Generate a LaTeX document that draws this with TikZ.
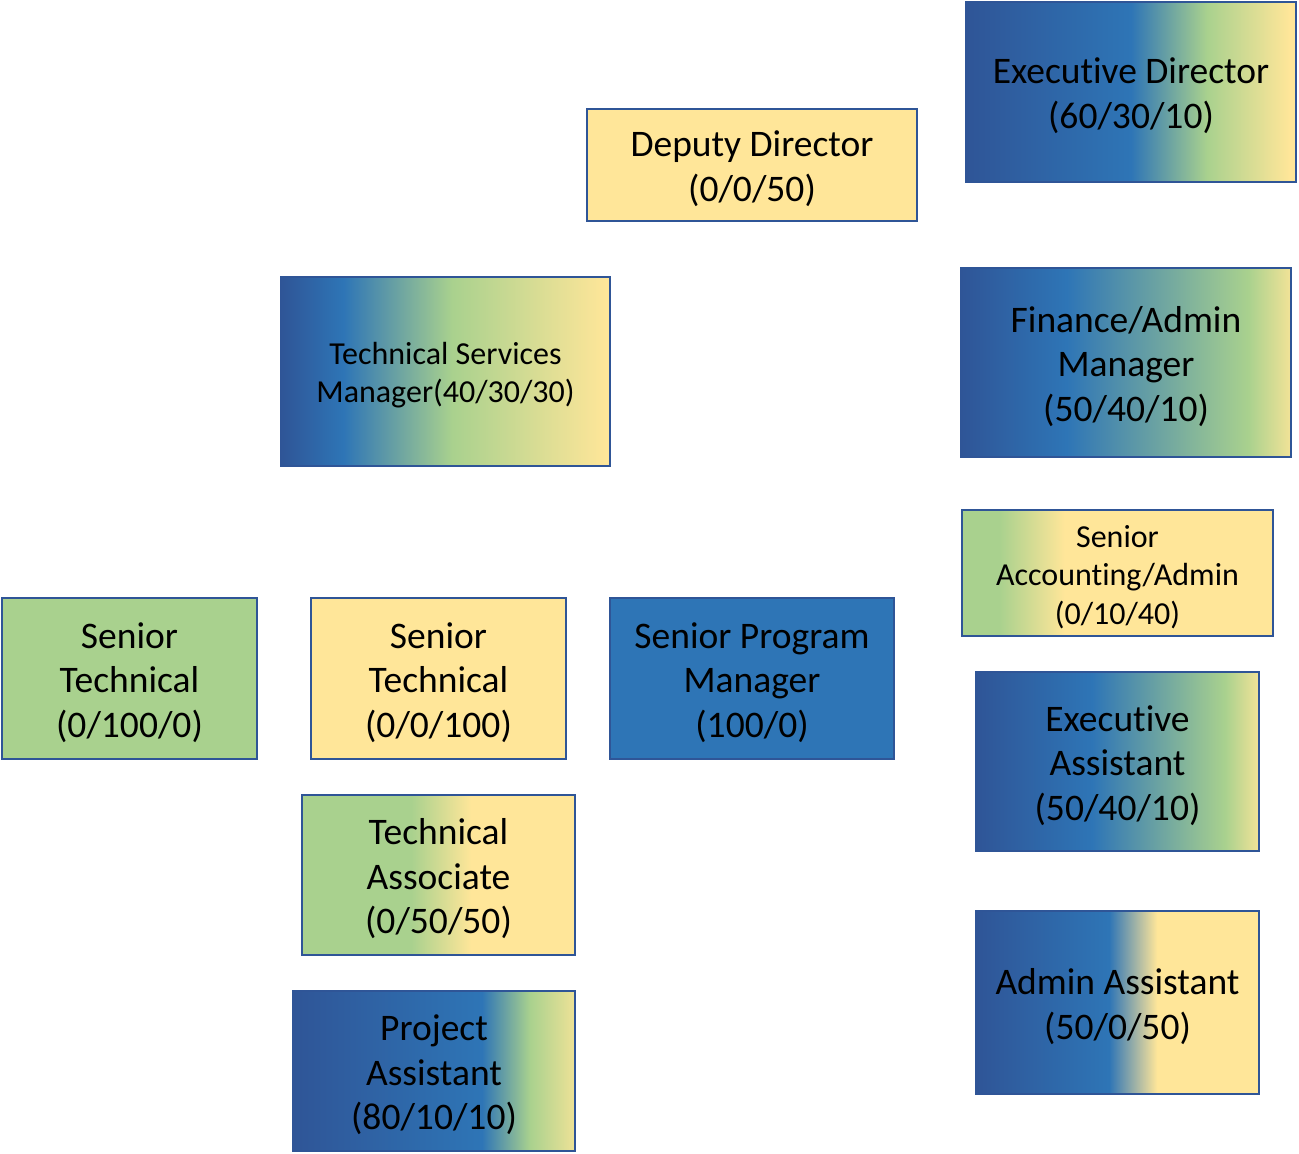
\documentclass[tikz,border=0pt]{standalone}
\usepackage{fontspec}
\setmainfont{Carlito}[Ligatures=NoCommon]
\definecolor{db}{HTML}{2F5597}
\definecolor{bl}{HTML}{2E75B6}
\definecolor{gr}{HTML}{A9D18E}
\definecolor{ye}{HTML}{FFE699}
\definecolor{bd}{HTML}{2F5597}
% positions: 25bp + 50bp * fraction
\pgfdeclarehorizontalshading{shED}{100bp}{color(0bp)=(db); color(25bp)=(db); color(50bp)=(bl); color(61.5bp)=(gr); color(74bp)=(ye); color(100bp)=(ye)}
\pgfdeclarehorizontalshading{shTSM}{100bp}{color(0bp)=(db); color(25bp)=(db); color(34.5bp)=(bl); color(51bp)=(gr); color(74.5bp)=(ye); color(100bp)=(ye)}
\pgfdeclarehorizontalshading{shFAM}{100bp}{color(0bp)=(db); color(25bp)=(db); color(41bp)=(bl); color(68.5bp)=(gr); color(75bp)=(ye!85!gr); color(100bp)=(ye!85!gr)}
\pgfdeclarehorizontalshading{shSAA}{100bp}{color(0bp)=(gr); color(25bp)=(gr); color(31bp)=(gr); color(41.5bp)=(ye); color(100bp)=(ye)}
\pgfdeclarehorizontalshading{shEA}{100bp}{color(0bp)=(db); color(25bp)=(db); color(45.5bp)=(bl); color(69bp)=(gr); color(75bp)=(ye!85!gr); color(100bp)=(ye!85!gr)}
\pgfdeclarehorizontalshading{shTA}{100bp}{color(0bp)=(gr); color(25bp)=(gr); color(45bp)=(gr); color(56bp)=(ye); color(100bp)=(ye)}
\pgfdeclarehorizontalshading{shPA}{100bp}{color(0bp)=(db); color(25bp)=(db); color(58.5bp)=(bl); color(67bp)=(gr); color(75bp)=(ye!80!gr); color(100bp)=(ye!80!gr)}
\pgfdeclarehorizontalshading{shAA}{100bp}{color(0bp)=(db); color(25bp)=(db); color(48.5bp)=(bl); color(57bp)=(ye); color(100bp)=(ye)}
\tikzset{
  box/.style={draw=bd, line width=1.6pt, rectangle, inner sep=0pt},
  txt/.style={align=center, inner sep=0pt, yshift=-3.8pt,
    font=\fontsize{37.5}{44.6}\selectfont, text=black},
  smalltxt/.style={txt, font=\fontsize{32}{38.5}\selectfont},
}
\begin{document}
\begin{tikzpicture}[x=1pt,y=-1pt]
\useasboundingbox (0,0) rectangle (1299,1154);
% boxes
\node[box, shading=shED, minimum width=330pt, minimum height=180pt] (ed) at (1131,92) {};
\node[box, fill=ye, minimum width=330pt, minimum height=112pt] (dd) at (752,165) {};
\node[box, shading=shTSM, minimum width=329pt, minimum height=189pt] (tsm) at (445.5,371.5) {};
\node[box, shading=shFAM, minimum width=330pt, minimum height=189pt] (fam) at (1126,362.5) {};
\node[box, shading=shSAA, minimum width=311pt, minimum height=126pt] (saa) at (1117.5,573) {};
\node[box, fill=gr, minimum width=255pt, minimum height=161pt] (st1) at (129.5,678.5) {};
\node[box, fill=ye, minimum width=255pt, minimum height=161pt] (st2) at (438.5,678.5) {};
\node[box, fill=bl, minimum width=284pt, minimum height=161pt] (spm) at (752,678.5) {};
\node[box, shading=shEA, minimum width=283pt, minimum height=179pt] (ea) at (1117.5,761.5) {};
\node[box, shading=shTA, minimum width=273pt, minimum height=160pt] (ta) at (438.5,875) {};
\node[box, shading=shPA, minimum width=282pt, minimum height=160pt] (pa) at (434,1071) {};
\node[box, shading=shAA, minimum width=283pt, minimum height=183pt] (aa) at (1117.5,1002.5) {};
% texts
\node[txt] (edT) at (ed.center) {Executive Director\\(60/30/10)};
\node[txt] (ddT) at (dd.center) {Deputy Director\\(0/0/50)};
\node[smalltxt] (tsmT) at (tsm.center) {Technical Services\\Manager(40/30/30)};
\node[txt] (famT) at (fam.center) {Finance/Admin\\Manager\\(50/40/10)};
\node[smalltxt] (saaT) at (saa.center) {Senior\\Accounting/Admin\\(0/10/40)};
\node[txt] (st1T) at (st1.center) {Senior\\Technical\\(0/100/0)};
\node[txt] (st2T) at (st2.center) {Senior\\Technical\\(0/0/100)};
\node[txt] (spmT) at (spm.center) {Senior Program\\Manager\\(100/0)};
\node[txt] (eaT) at (ea.center) {Executive\\Assistant\\(50/40/10)};
\node[txt] (taT) at (ta.center) {Technical\\Associate\\(0/50/50)};
\node[txt] (paT) at (pa.center) {Project\\Assistant\\(80/10/10)};
\node[txt] (aaT) at (aa.center) {Admin Assistant\\(50/0/50)};
\end{tikzpicture}
\end{document}
